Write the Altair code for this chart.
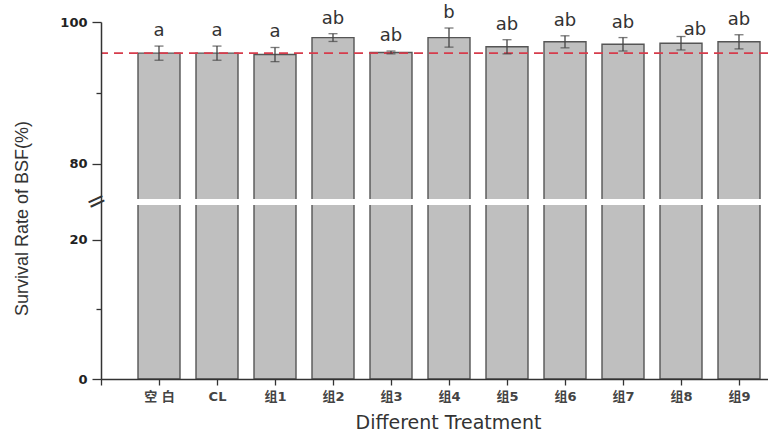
import json

import altair as alt
import pandas as pd

# Survival of BSF larvae per treatment (mean ± SD) with significance letters
treatments = ["空 白", "CL", "组1", "组2", "组3", "组4", "组5", "组6", "组7", "组8", "组9"]
survival = [95.6, 95.6, 95.4, 97.8, 95.7, 97.8, 96.5, 97.2, 96.85, 97.0, 97.2]
sd = [1.0, 1.0, 1.0, 0.55, 0.2, 1.35, 1.0, 0.85, 0.95, 0.95, 1.0]
letters = ["a", "a", "a", "ab", "ab", "b", "ab", "ab", "ab", "ab", "ab"]

# broken y axis: the span between these values is squeezed into a thin gap
break_low, break_high = 25, 75
y_ticks = [0, 10, 20, 80, 90, 100]
y_labelled = [0, 20, 80, 100]

W, H = 667, 357
GAP_TOP, GAP_BOTTOM = 177, 183

df = pd.DataFrame({
    "pos": list(range(1, len(treatments) + 1)),
    "treatment": treatments,
    "survival": survival,
    "sd": sd,
    "letter": letters,
})
df["lo"] = df["survival"] - df["sd"]
df["hi"] = df["survival"] + df["sd"]

x_max = len(treatments) + 0.5
x_scale = alt.Scale(domain=[0, x_max], nice=False, zero=False, padding=0)
y_scale = alt.Scale(domain=[0, break_low, break_high, 100],
                    range=[H, GAP_BOTTOM, GAP_TOP, 0], nice=False, zero=False)

names_js = json.dumps(treatments, ensure_ascii=False)
x_values = [i / 2 for i in range(0, 2 * len(treatments) + 2)]

x_axis = alt.Axis(
    values=x_values,
    labelExpr=f"(datum.value % 1 === 0 && datum.value > 0) ? {names_js}[datum.value - 1] : ''",
    tickSize={"condition": {"test": "datum.value % 1 !== 0", "value": 3}, "value": 6},
    labelFont="DejaVu Sans, Noto Sans CJK SC, sans-serif",
    labelFontWeight="bold",
    labelFontSize=13,
    labelColor="#444",
    labelPadding=5,
    labelFlush=False,
    labelOverlap=False,
    grid=False,
    domainColor="#333",
    domainWidth=1.5,
    tickColor="#333",
    tickWidth=1.3,
    title="Different Treatment",
    titleFont="DejaVu Sans",
    titleFontSize=19,
    titleFontWeight="normal",
    titleColor="#333",
    titleX=347,
    titleY=49,
    titleAlign="center",
    titleBaseline="alphabetic",
    zindex=1,
)

labelled_js = json.dumps(y_labelled)
y_axis = alt.Axis(
    values=y_ticks,
    labelExpr=f"indexof({labelled_js}, datum.value) >= 0 ? datum.label : ''",
    tickSize={"condition": {"test": f"indexof({labelled_js}, datum.value) < 0", "value": 5},
              "value": 9},
    labelFont="DejaVu Sans",
    labelFontWeight="bold",
    labelFontSize=13,
    labelColor="#222",
    labelPadding=5,
    labelFlush=False,
    labelOverlap=False,
    grid=False,
    domainColor="#333",
    domainWidth=1.5,
    tickColor="#333",
    tickWidth=1.3,
    title="Survival Rate of BSF(%)",
    titleFont="Liberation Sans",
    titleFontSize=18,
    titleFontWeight="normal",
    titleColor="#333",
    titleAngle=270,
    titleX=-70,
    titleY=196,
    titleAlign="center",
    titleBaseline="bottom",
    zindex=1,
)

X_TITLE = "Different Treatment"
Y_TITLE = "Survival Rate of BSF(%)"

base = alt.Chart(df)

bars = base.mark_bar(size=42, fill="#bfbfbf", stroke="#555", strokeWidth=1.4).encode(
    x=alt.X("pos:Q", scale=x_scale, axis=x_axis),
    y=alt.Y("survival:Q", scale=y_scale, axis=y_axis),
)

gap = alt.Chart(pd.DataFrame({"lo": [break_low], "hi": [break_high]})).mark_rect(
    color="white"
).encode(
    x=alt.value(0),
    x2=alt.value(W),
    y=alt.Y("lo:Q", title=Y_TITLE),
    y2="hi:Q",
)

# reference level: the blank control's mean
control_line = alt.Chart(df.head(1)).mark_rule(
    color="#d63c4c", strokeWidth=1.8, strokeDash=[9, 6]
).encode(y=alt.Y("survival:Q", title=Y_TITLE))

err = base.mark_rule(color="#444", strokeWidth=1.3).encode(
    x=alt.X("pos:Q", title=X_TITLE),
    y=alt.Y("lo:Q", title=Y_TITLE),
    y2="hi:Q",
)
cap_lo = base.mark_tick(orient="horizontal", size=9, thickness=1.3, color="#444").encode(
    x=alt.X("pos:Q", title=X_TITLE), y=alt.Y("lo:Q", title=Y_TITLE)
)
cap_hi = base.mark_tick(orient="horizontal", size=9, thickness=1.3, color="#444").encode(
    x=alt.X("pos:Q", title=X_TITLE), y=alt.Y("hi:Q", title=Y_TITLE)
)

letter_style = dict(baseline="alphabetic", align="center", font="DejaVu Sans",
                    fontSize=18, color="#333")
sig = base.transform_filter("datum.treatment !== '组8'").mark_text(
    dy=-10, **letter_style
).encode(x=alt.X("pos:Q", title=X_TITLE), y=alt.Y("hi:Q", title=Y_TITLE), text="letter:N")
sig_shifted = base.transform_filter("datum.treatment === '组8'").mark_text(
    dx=14, dy=-2, **letter_style
).encode(x=alt.X("pos:Q", title=X_TITLE), y=alt.Y("hi:Q", title=Y_TITLE), text="letter:N")

break_mark = alt.Chart(pd.DataFrame({"x": [0], "y": [(break_low + break_high) / 2]})).mark_text(
    text="=", angle=335, fontSize=24, align="center", baseline="middle", color="#333",
    font="DejaVu Sans", dx=-4, dy=-2,
).encode(x=alt.X("x:Q", title=X_TITLE), y=alt.Y("y:Q", title=Y_TITLE))

chart = alt.layer(
    bars, gap, control_line, err, cap_lo, cap_hi, sig, sig_shifted, break_mark
).properties(
    width=W,
    height=H,
    autosize=alt.AutoSizeParams(type="none"),
    padding={"left": 101, "top": 22, "right": 0, "bottom": 53},
    background="white",
).configure_view(stroke=None)

chart.save("out.html", embed_options={"renderer": "svg", "actions": False})
